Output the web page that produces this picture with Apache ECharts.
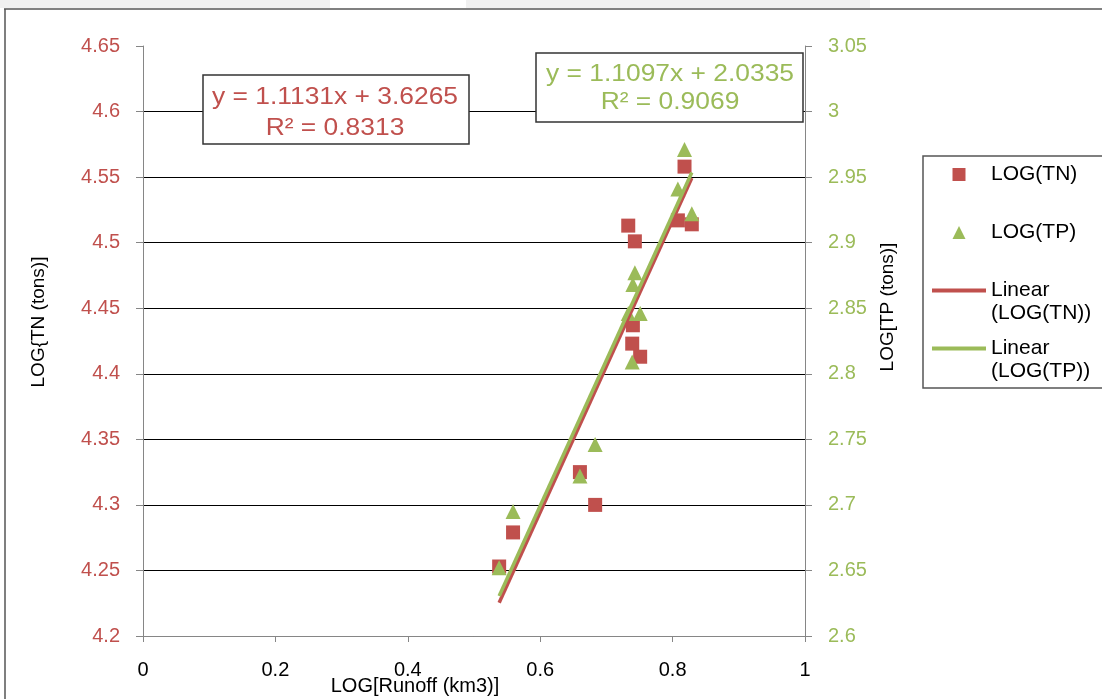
<!DOCTYPE html>
<html>
<head>
<meta charset="utf-8">
<style>
	html,body{margin:0;padding:0;background:#fff;}
	#g_canvas{width:1102px;height:699px;}
</style>
<script src="https://cdn.jsdelivr.net/npm/echarts@6/dist/echarts.min.js"></script>
</head>
<body>
<div id="g_canvas"></div>
<script>
// 径流(对数) 与 TN / TP(对数)
var runoff = [0.538, 0.559, 0.660, 0.683, 0.733, 0.743, 0.740, 0.739, 0.751, 0.808, 0.829, 0.818];
var logTN = [4.253, 4.279, 4.325, 4.300, 4.513, 4.501, 4.437, 4.423, 4.413, 4.517, 4.514, 4.558];
var logTP = [2.652, 2.695, 2.722, 2.746, 2.846, 2.877, 2.868, 2.809, 2.846, 2.941, 2.922, 2.971];

// 趋势线 (Excel 给出的方程)
var tnFit = [1.1131, 3.6265];
var tpFit = [1.1097, 2.0335];
var fitText = ['y = 1.1131x + 3.6265', 'R² = 0.8313', 'y = 1.1097x + 2.0335', 'R² = 0.9069'];

// 刻度
var xTicks = [0, 1, 0.2];
var tnTicks = [4.2, 4.65, 0.05];
var tpTicks = [2.6, 3.05, 0.05];

var red = '#C0504D';
var green = '#9BBB59';
var font = '"Liberation Sans", Arial, sans-serif';

function pairs(xs, ys){
	var out = [];
	for(let i=0;i<xs.length;i++){
		out.push([xs[i], ys[i]]);
	}
	return out;
}
function fitLine(xs, fit){
	var lo = Math.min.apply(null, xs);
	var hi = Math.max.apply(null, xs);
	return [[lo, fit[0]*lo+fit[1]], [hi, fit[0]*hi+fit[1]]];
}

// 顶部那条网格线不画
var gridColors = [];
for(let i=0;i<9;i++){ gridColors.push('#000'); }
gridColors.push('rgba(0,0,0,0)');

var axisGray = {lineStyle:{color:'#868686', width:1}};

// 图例图标
var iconSquare = 'path://M0,0H10V10H0Z';
var iconTriangle = 'path://M5,0L10,10L0,10Z';
var iconLine = 'path://M0,0H54V4H0Z';

option = {
	animation: false,
	backgroundColor: '#fff',
	grid: {
		left: 143,
		right: 297,
		top: 46,
		bottom: 63
	},
	xAxis: {
		type: 'value',
		min: xTicks[0],
		max: xTicks[1],
		interval: xTicks[2],
		splitLine: {show: false},
		axisLine: axisGray,
		axisTick: {show: true, inside: false, length: 6, lineStyle: {color: '#868686'}},
		axisLabel: {color: '#000', fontSize: 20, fontFamily: font, margin: 24}
	},
	yAxis: [{
		type: 'value',
		position: 'left',
		min: tnTicks[0],
		max: tnTicks[1],
		interval: tnTicks[2],
		axisLine: {show: true, lineStyle: {color: '#868686'}},
		axisTick: {show: true, length: 7, lineStyle: {color: '#868686'}},
		axisLabel: {color: red, fontSize: 20, fontFamily: font, margin: 23},
		splitLine: {show: true, lineStyle: {color: gridColors, width: 1}}
	}, {
		type: 'value',
		position: 'right',
		min: tpTicks[0],
		max: tpTicks[1],
		interval: tpTicks[2],
		axisLine: {show: true, lineStyle: {color: '#868686'}},
		axisTick: {show: true, length: 7, lineStyle: {color: '#868686'}},
		axisLabel: {color: green, fontSize: 20, fontFamily: font, margin: 23},
		splitLine: {show: false}
	}],
	legend: {
		orient: 'vertical',
		left: 932,
		top: 140,
		padding: 0,
		itemWidth: 54,
		itemHeight: 13,
		itemGap: -11,
		symbolKeepAspect: true,
		formatter: function(name){
			if(name.indexOf('Linear ')==0){
				return ' \n' + name.replace('Linear ', 'Linear\n');
			}
			return ' \n' + name + '\n ';
		},
		textStyle: {color: '#000', fontSize: 21, lineHeight: 23, fontFamily: font},
		data: [
			{name: 'LOG(TN)', icon: iconSquare},
			{name: 'LOG(TP)', icon: iconTriangle},
			{name: 'Linear (LOG(TN))', icon: iconLine},
			{name: 'Linear (LOG(TP))', icon: iconLine}
		]
	},
	series: [{
		name: 'LOG(TN)',
		type: 'scatter',
		yAxisIndex: 0,
		symbol: 'rect',
		symbolSize: 14,
		itemStyle: {color: red, opacity: 1},
		data: pairs(runoff, logTN)
	}, {
		name: 'LOG(TP)',
		type: 'scatter',
		yAxisIndex: 1,
		symbol: 'triangle',
		symbolSize: 15,
		itemStyle: {color: green, opacity: 1},
		data: pairs(runoff, logTP)
	}, {
		name: 'Linear (LOG(TN))',
		type: 'line',
		yAxisIndex: 0,
		symbol: 'none',
		lineStyle: {color: red, width: 3.5},
		itemStyle: {color: red},
		data: fitLine(runoff, tnFit)
	}, {
		name: 'Linear (LOG(TP))',
		type: 'line',
		yAxisIndex: 1,
		symbol: 'none',
		lineStyle: {color: green, width: 3.5},
		itemStyle: {color: green},
		data: fitLine(runoff, tpFit)
	}],
	graphic: [
		// 外框
		{type: 'rect', z: 0, shape: {x: 0, y: 0, width: 330, height: 8}, style: {fill: '#f0f0f0'}},
		{type: 'rect', z: 0, shape: {x: 466, y: 0, width: 404, height: 8}, style: {fill: '#f0f0f0'}},
		{type: 'line', z: 1, shape: {x1: 4, y1: 9, x2: 1102, y2: 9}, style: {stroke: '#808080', lineWidth: 2}},
		{type: 'line', z: 1, shape: {x1: 5, y1: 9, x2: 5, y2: 699}, style: {stroke: '#555', lineWidth: 1.5}},
		// 坐标轴标题
		{type: 'text', x: 39, y: 322, rotation: Math.PI/2, style: {text: 'LOG{TN (tons)]', fill: '#000', fontSize: 19, fontFamily: font, align: 'center', verticalAlign: 'middle'}},
		{type: 'text', x: 888, y: 307, rotation: Math.PI/2, style: {text: 'LOG[TP (tons)]', fill: '#000', fontSize: 19, fontFamily: font, align: 'center', verticalAlign: 'middle'}},
		{type: 'text', x: 415, y: 686, style: {text: 'LOG[Runoff (km3)]', fill: '#000', fontSize: 20, fontFamily: font, align: 'center', verticalAlign: 'middle'}},
		// 方程框
		{type: 'rect', z: 10, shape: {x: 203, y: 75, width: 266, height: 69}, style: {fill: '#fff', stroke: '#333', lineWidth: 1.5}},
		{type: 'text', z: 11, x: 335, y: 97, scaleX: 1.1, style: {text: fitText[0], fill: red, fontSize: 24, fontFamily: font, align: 'center', verticalAlign: 'middle'}},
		{type: 'text', z: 11, x: 335, y: 128, scaleX: 1.1, style: {text: fitText[1], fill: red, fontSize: 24, fontFamily: font, align: 'center', verticalAlign: 'middle'}},
		{type: 'rect', z: 10, shape: {x: 536, y: 53, width: 267, height: 69}, style: {fill: '#fff', stroke: '#333', lineWidth: 1.5}},
		{type: 'text', z: 11, x: 670, y: 74, scaleX: 1.1, style: {text: fitText[2], fill: green, fontSize: 24, fontFamily: font, align: 'center', verticalAlign: 'middle'}},
		{type: 'text', z: 11, x: 670, y: 102, scaleX: 1.1, style: {text: fitText[3], fill: green, fontSize: 24, fontFamily: font, align: 'center', verticalAlign: 'middle'}},
		// 图例框
		{type: 'rect', z: 0, shape: {x: 923, y: 156, width: 190, height: 232}, style: {fill: 'rgba(0,0,0,0)', stroke: '#555', lineWidth: 1.5}}
	]
};
var myChart = echarts.init(document.getElementById('g_canvas'));
myChart.setOption(option);
</script>
</body>
</html>
